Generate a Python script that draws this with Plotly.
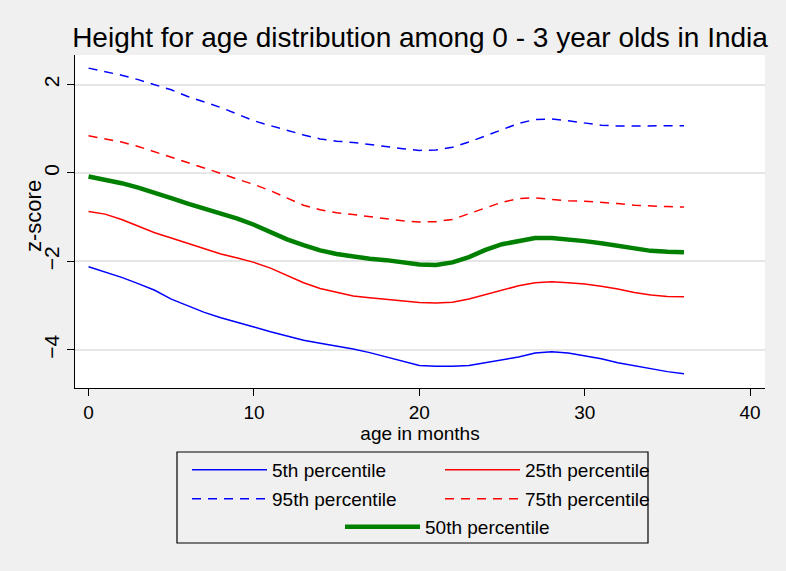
import plotly.graph_objects as go

months = list(range(0, 37))

p5 = [-2.12, -2.24, -2.36, -2.50, -2.65, -2.85, -3.00, -3.15, -3.27, -3.37, -3.48, -3.59, -3.69,
      -3.78, -3.85, -3.91, -3.98, -4.06, -4.16, -4.26, -4.35, -4.37, -4.37, -4.35, -4.29, -4.23,
      -4.16, -4.07, -4.04, -4.07, -4.13, -4.20, -4.29, -4.36, -4.43, -4.49, -4.54]
p25 = [-0.87, -0.93, -1.05, -1.20, -1.35, -1.47, -1.59, -1.72, -1.83, -1.92, -2.02, -2.15, -2.31,
       -2.48, -2.61, -2.70, -2.78, -2.82, -2.86, -2.90, -2.93, -2.94, -2.92, -2.85, -2.75, -2.64,
       -2.55, -2.48, -2.46, -2.48, -2.51, -2.56, -2.62, -2.70, -2.76, -2.79, -2.80]
p50 = [-0.08, -0.15, -0.23, -0.33, -0.44, -0.57, -0.69, -0.80, -0.91, -1.03, -1.17, -1.34, -1.50,
       -1.63, -1.75, -1.83, -1.89, -1.94, -1.97, -2.02, -2.07, -2.08, -2.02, -1.90, -1.74, -1.61,
       -1.53, -1.47, -1.47, -1.50, -1.54, -1.59, -1.64, -1.71, -1.76, -1.78, -1.79]
p75 = [0.84, 0.77, 0.70, 0.60, 0.48, 0.36, 0.23, 0.11, -0.01, -0.14, -0.26, -0.40, -0.57,
       -0.73, -0.83, -0.90, -0.94, -0.99, -1.03, -1.08, -1.11, -1.10, -1.05, -0.92, -0.78, -0.66,
       -0.58, -0.56, -0.60, -0.63, -0.64, -0.66, -0.69, -0.73, -0.75, -0.76, -0.77]
p95 = [2.37, 2.29, 2.21, 2.11, 2.00, 1.88, 1.73, 1.61, 1.48, 1.33, 1.18, 1.07, 0.96,
       0.86, 0.77, 0.72, 0.69, 0.64, 0.59, 0.55, 0.51, 0.52, 0.58, 0.70, 0.84, 0.98,
       1.12, 1.21, 1.22, 1.18, 1.13, 1.08, 1.06, 1.06, 1.06, 1.07, 1.07]

x_ticks = [0, 10, 20, 30, 40]
y_ticks = [-4, -2, 0, 2]

BLUE = "rgb(0,0,255)"
RED = "rgb(255,0,0)"
GREEN = "rgb(0,128,0)"
FONT = "Arial, Liberation Sans, sans-serif"

fig = go.Figure()
fig.add_trace(go.Scatter(x=months, y=p5, mode="lines", name="5th percentile",
                         line=dict(color=BLUE, width=1.5), legend="legend"))
fig.add_trace(go.Scatter(x=months, y=p25, mode="lines", name="25th percentile",
                         line=dict(color=RED, width=1.5), legend="legend"))
fig.add_trace(go.Scatter(x=months, y=p95, mode="lines", name="95th percentile",
                         line=dict(color=BLUE, width=1.5, dash="9px,7px"), legend="legend2"))
fig.add_trace(go.Scatter(x=months, y=p75, mode="lines", name="75th percentile",
                         line=dict(color=RED, width=1.5, dash="9px,7px"), legend="legend2"))
fig.add_trace(go.Scatter(x=months, y=p50, mode="lines", name="50th percentile",
                         line=dict(color=GREEN, width=4.5), legend="legend3"))

leg_common = dict(orientation="h", bgcolor="rgba(0,0,0,0)", borderwidth=0,
                  font=dict(family=FONT, size=19, color="black"),
                  entrywidth=163, entrywidthmode="pixels",
                  xanchor="left", yanchor="middle", itemwidth=75)

fig.update_layout(
    width=786, height=571,
    paper_bgcolor="#f0f0f0", plot_bgcolor="white",
    margin=dict(l=75, r=21, t=55, b=183),
    title=dict(text="Height for age distribution among 0 - 3 year olds in India",
               x=0.5, xref="paper", xanchor="center", y=0.935, yanchor="middle",
               font=dict(family=FONT, size=28, color="black")),
    xaxis=dict(range=[-0.82, 40.9], tickvals=x_ticks, showgrid=False, zeroline=False,
               showline=True, linecolor="black", linewidth=1.2,
               ticks="outside", ticklen=7, tickcolor="black",
               tickfont=dict(family=FONT, size=19, color="black"),
               title=dict(text="age in months", font=dict(family=FONT, size=19, color="black"),
                          standoff=0)),
    yaxis=dict(range=[-4.86, 2.667], tickvals=y_ticks, showgrid=True, gridcolor="#e6e6e6",
               gridwidth=1.5, zeroline=False, showline=True, linecolor="black", linewidth=1.2,
               ticks="outside", ticklen=7, tickcolor="black", tickangle=-90,
               tickfont=dict(family=FONT, size=21, color="black")),
    annotations=[dict(text="z-score", textangle=-90, showarrow=False,
                      xref="paper", yref="paper", x=(33 - 75) / 690, y=(388 - 216) / 333,
                      xanchor="center", yanchor="middle",
                      font=dict(family=FONT, size=22, color="black"))],
    legend=dict(**leg_common, x=(187 - 75) / 690, y=-(470 - 388) / 333),
    legend2=dict(**leg_common, x=(187 - 75) / 690, y=-(499 - 388) / 333),
    legend3=dict(**leg_common, x=(340 - 75) / 690, y=-(527 - 388) / 333),
    shapes=[dict(type="rect", xref="paper", yref="paper",
                 x0=(177 - 75) / 690, x1=(648 - 75) / 690,
                 y0=-(543 - 388) / 333, y1=-(452 - 388) / 333,
                 line=dict(color="black", width=1.2), fillcolor="rgba(0,0,0,0)")],
)

fig.write_html("out.html", config={"displayModeBar": False},
               post_script="document.body.style.margin='0';")
